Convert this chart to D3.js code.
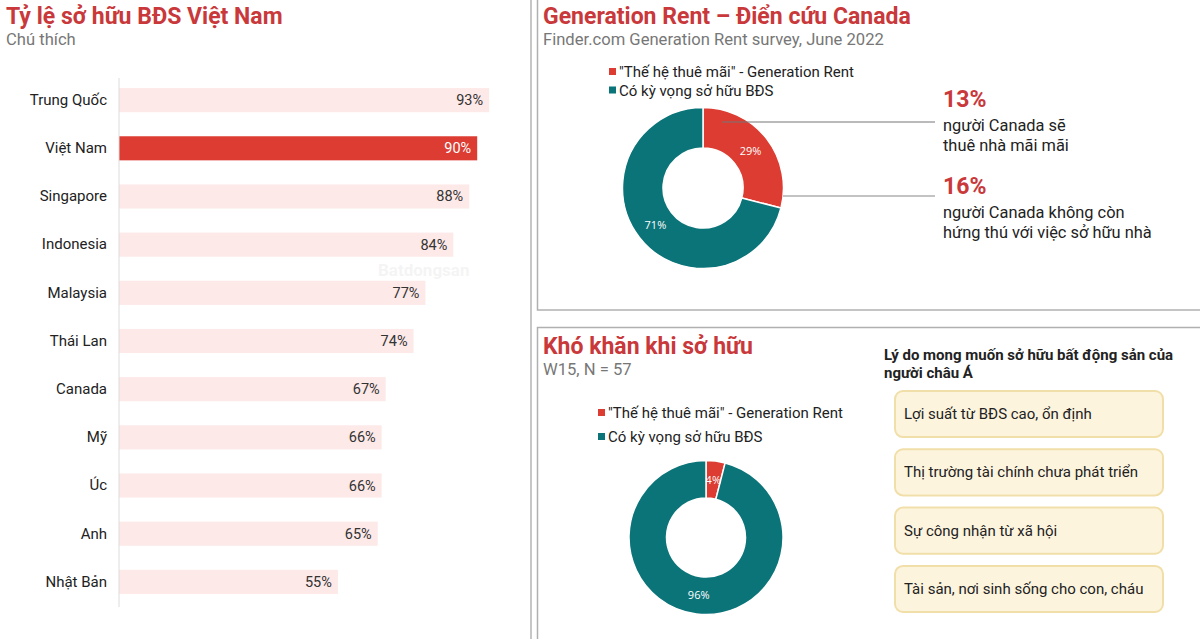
<!DOCTYPE html>
<html>
<head>
<meta charset="utf-8">
<script src="https://cdn.jsdelivr.net/npm/d3@7.9.0/dist/d3.min.js"></script>
<style>
  body { margin: 0; background: #fff; }
  svg { font-family: Roboto, "Noto Sans", sans-serif; display: block; }
</style>
</head>
<body>
<svg width="1200" height="639"></svg>
<script>
// data
const countries = ['Trung Quốc', 'Việt Nam', 'Singapore', 'Indonesia', 'Malaysia', 'Thái Lan', 'Canada', 'Mỹ', 'Úc', 'Anh', 'Nhật Bản'];
const ownership = [93, 90, 88, 84, 77, 74, 67, 66, 66, 65, 55];
const highlight = 'Việt Nam';

const donutLabels = ['"Thế hệ thuê mãi" - Generation Rent', 'Có kỳ vọng sở hữu BĐS'];
const canadaValues = [29, 71];
const asiaValues = [4, 96];

const reasons = ['Lợi suất từ BĐS cao, ổn định', 'Thị trường tài chính chưa phát triển', 'Sự công nhận từ xã hội', 'Tài sản, nơi sinh sống cho con, cháu'];

const RED = '#dc3c32';
const TEAL = '#0b7479';
const TITLE = '#c9383a';
const GREY = '#777';

const svg = d3.select('svg');

// panel frames
svg.append('line').attr('x1', 531).attr('x2', 531).attr('y1', 0).attr('y2', 639)
  .attr('stroke', '#b5b5b5').attr('stroke-width', 1.5);
svg.append('rect').attr('x', 537.5).attr('y', -5).attr('width', 700).attr('height', 315)
  .attr('fill', 'none').attr('stroke', '#b0b0b0').attr('stroke-width', 1.5);
svg.append('rect').attr('x', 537.5).attr('y', 327.5).attr('width', 700).attr('height', 400)
  .attr('fill', 'none').attr('stroke', '#b0b0b0').attr('stroke-width', 1.5);

function title(x, y, txt, sub) {
  svg.append('text').attr('x', x).attr('y', y).text(txt)
    .attr('font-size', 23).attr('font-weight', 700).attr('fill', TITLE);
  svg.append('text').attr('x', x).attr('y', y + 21).text(sub)
    .attr('font-size', 16.6).attr('fill', GREY);
}

// ---------- left: bar chart ----------
title(6, 24, 'Tỷ lệ sở hữu BĐS Việt Nam', 'Chú thích');

const x = d3.scaleLinear().domain([0, 100]).range([119, 517]);
const y = d3.scaleBand().domain(countries).range([64, 618]).padding(0.5);

const bars = svg.append('g');
bars.selectAll('rect').data(countries).join('rect')
  .attr('x', x(0))
  .attr('y', (d) => y(d))
  .attr('width', (d, i) => x(ownership[i]) - x(0))
  .attr('height', y.bandwidth())
  .attr('fill', (d) => d === highlight ? RED : '#fde9e8');

bars.selectAll('text.val').data(countries).join('text')
  .attr('class', 'val')
  .attr('x', (d, i) => x(ownership[i]) - 6)
  .attr('y', (d) => y(d) + y.bandwidth() / 2 + 5)
  .attr('text-anchor', 'end')
  .attr('font-size', 14.5)
  .attr('fill', (d) => d === highlight ? '#fff' : '#333')
  .text((d, i) => ownership[i] + '%');

const yAxis = svg.append('g').attr('transform', `translate(${x(0)},0)`)
  .call(d3.axisLeft(y).tickSize(0).tickPadding(12));
yAxis.select('.domain').attr('stroke', '#dcdcdc').attr('d', 'M0,78V607');
yAxis.selectAll('text').attr('font-size', 15).attr('fill', '#222')
  .attr('font-family', 'Roboto, sans-serif');

// watermark
svg.append('text').attr('x', 378).attr('y', 276).text('Batdongsan')
  .attr('font-size', 17).attr('font-weight', 700).attr('fill', '#000').attr('opacity', 0.04);

// ---------- donuts ----------
function donut(cx, cy, rOut, rIn, values, legendX, legendY, legendGap) {
  const color = d3.scaleOrdinal().domain(donutLabels).range([RED, TEAL]);
  const data = values.map((v, i) => ({ label: donutLabels[i], value: v }));
  const pie = d3.pie().sort(null).value((d) => d.value);
  const arc = d3.arc().innerRadius(rIn).outerRadius(rOut);
  const g = svg.append('g').attr('transform', `translate(${cx},${cy})`);
  const arcs = pie(data);
  g.selectAll('path').data(arcs).join('path')
    .attr('d', arc)
    .attr('fill', (d) => color(d.data.label))
    .attr('stroke', '#fff').attr('stroke-width', 1.5);
  g.selectAll('text').data(arcs).join('text')
    .attr('transform', (d) => `translate(${arc.centroid(d)})`)
    .attr('text-anchor', 'middle').attr('dy', '0.35em')
    .attr('font-size', 11).attr('fill', '#fff')
    .attr('font-family', '"Open Sans", sans-serif')
    .text((d) => d.data.value + '%');

  const lg = svg.append('g').attr('transform', `translate(${legendX},${legendY})`);
  donutLabels.forEach((l, i) => {
    lg.append('rect').attr('x', 0).attr('y', i * legendGap - 4).attr('width', 7).attr('height', 7)
      .attr('fill', color(l));
    lg.append('text').attr('x', 10).attr('y', i * legendGap + 5).text(l)
      .attr('font-size', 15).attr('fill', '#222');
  });
}

// top-right
title(543, 24, 'Generation Rent – Điển cứu Canada', 'Finder.com Generation Rent survey, June 2022');
donut(703, 188, 80.5, 40, canadaValues, 609, 72, 18.5);

// leader lines
svg.append('line').attr('x1', 722).attr('x2', 935).attr('y1', 122).attr('y2', 122)
  .attr('stroke', '#777').attr('stroke-width', 1.2);
svg.append('line').attr('x1', 783).attr('x2', 935).attr('y1', 196).attr('y2', 196)
  .attr('stroke', '#888').attr('stroke-width', 1.2);

const callouts = [
  { big: '13%', lines: ['người Canada sẽ', 'thuê nhà mãi mãi'], y: 107 },
  { big: '16%', lines: ['người Canada không còn', 'hứng thú với việc sở hữu nhà'], y: 194 },
];
callouts.forEach((c) => {
  svg.append('text').attr('x', 943).attr('y', c.y).text(c.big)
    .attr('font-size', 23).attr('font-weight', 700).attr('fill', TITLE);
  c.lines.forEach((l, i) => {
    svg.append('text').attr('x', 943).attr('y', c.y + 24 + i * 20).text(l)
      .attr('font-size', 16.4).attr('fill', '#222');
  });
});

// bottom-right
title(543, 354, 'Khó khăn khi sở hữu', 'W15, N = 57');
donut(706, 537.5, 77, 39.5, asiaValues, 598, 413, 24);

svg.append('text').attr('x', 884).attr('y', 360).text('Lý do mong muốn sở hữu bất động sản của')
  .attr('font-size', 15).attr('font-weight', 700).attr('fill', '#222');
svg.append('text').attr('x', 884).attr('y', 378).text('người châu Á')
  .attr('font-size', 15).attr('font-weight', 700).attr('fill', '#222');

const ry = d3.scaleBand().domain(reasons).range([391, 612]).paddingInner(0.21);
const rg = svg.append('g');
rg.selectAll('rect').data(reasons).join('rect')
  .attr('x', 895).attr('y', (d) => ry(d))
  .attr('width', 268).attr('height', ry.bandwidth())
  .attr('rx', 8)
  .attr('fill', '#fdf4de').attr('stroke', '#f1dfa9').attr('stroke-width', 2);
rg.selectAll('text').data(reasons).join('text')
  .attr('x', 904).attr('y', (d) => ry(d) + ry.bandwidth() / 2 + 5)
  .attr('font-size', 15).attr('fill', '#222')
  .text((d) => d);
</script>
</body>
</html>
